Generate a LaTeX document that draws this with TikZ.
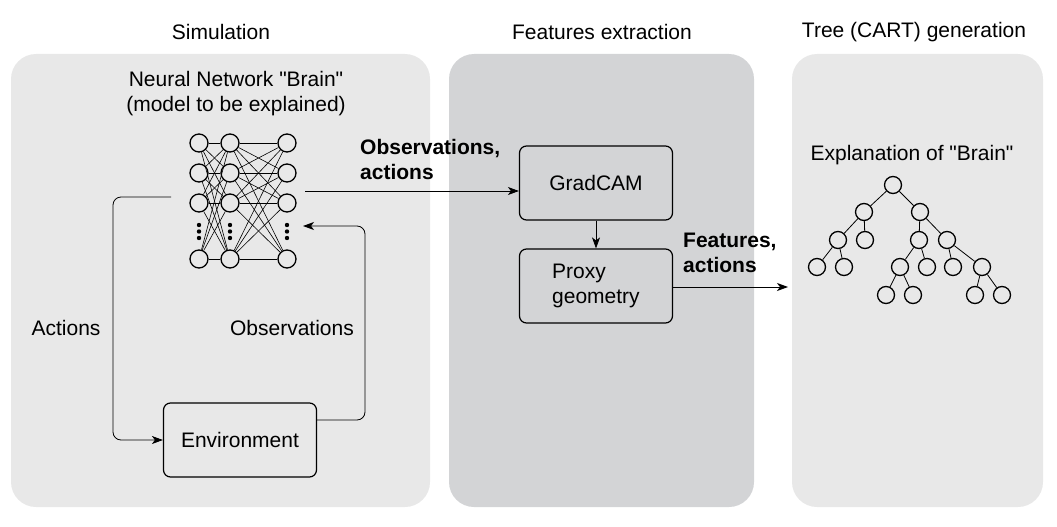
\documentclass[tikz,border=0pt]{standalone}
\usepackage{fontspec}
\setmainfont{Liberation Sans}
\usetikzlibrary{arrows.meta,positioning,calc}
\definecolor{panellight}{HTML}{E8E8E8}
\definecolor{paneldark}{HTML}{D3D4D6}

\begin{document}
\begin{tikzpicture}[x=1pt,y=-1pt,>={Stealth[length=11pt,width=8pt,inset=3pt]}]
\tikzstyle{panel}=[rounded corners=25pt,draw=none]
\tikzstyle{block}=[draw,rounded corners=7pt,line width=1.2pt,minimum width=153pt,minimum height=74pt,inner sep=0pt]
\tikzstyle{neuron}=[circle,draw,line width=1.3pt,minimum size=18pt,inner sep=0pt]
\tikzstyle{leaf}=[circle,draw,line width=1.3pt,minimum size=17pt,inner sep=0pt]
\tikzstyle{txt}=[font=\fontsize{21}{25}\selectfont,align=left,inner sep=0pt]
\tikzstyle{btxt}=[font=\fontsize{21}{25}\selectfont\bfseries,align=left,inner sep=0pt]
\tikzstyle{link}=[line width=0.8pt]

\useasboundingbox (0,0) rectangle (1057,527);

% panels
\fill[panellight,panel] (11,54) rectangle (430,507);
\fill[paneldark,panel] (449,54) rectangle (754,507);
\fill[panellight,panel] (792,54) rectangle (1043,507);

\node (simtitle) [txt] at (221,32) {Simulation};
\node (feattitle) [txt] at (602,32) {Features extraction};
\node (treetitle) [txt] at (914,32) {Tree (CART) generation};

% neural network
\node (nnlabel) [txt,align=center] at (236,94) {Neural Network \textquotedbl Brain\textquotedbl\\(model to be explained)};
\foreach \c/\x in {1/199,2/230,3/287}
  \foreach \r/\y in {1/143,2/173,3/203,5/259}
    \node (n\c\r) [neuron] at (\x,\y) {};
\foreach \a in {1,2,3,5}
  \foreach \b in {1,2,3,5} {
    \draw[line width=0.6pt] (n1\a) -- (n2\b);
    \draw[line width=0.6pt] (n2\a) -- (n3\b);
  }
\foreach \x in {199,230,287}
  \foreach \d in {225,231.5,238}
    \fill (\x,\d) circle (2.2pt);

% environment loop
\node (env) [block] at (240,440) {\fontsize{21}{25}\selectfont Environment};
\coordinate (actout) at (171,197);
\coordinate (obsin) at (303,226);
\draw[link,->,rounded corners=8pt] (actout) -- (113,197) |- (env.west);
\draw[link,->,rounded corners=8pt] ([yshift=20pt]env.east) -- (365,420) |- (obsin);
\node (actlbl) [txt] at (66,328) {Actions};
\node (obslbl) [txt] at (292,328) {Observations};

% features extraction
\node (gradcam) [block] at (596,183) {\fontsize{21}{25}\selectfont GradCAM};
\node (proxy) [block] at (596,286) {};
\node (proxytxt) [txt,anchor=west] at (552,286) {Proxy\\geometry};
\coordinate (nnout) at (305,191);
\draw[link,->] (nnout) -- (nnout -| gradcam.west);
\node (obsact) [btxt,anchor=north west] at (360,139) {Observations,\\actions};
\draw[link,->] (gradcam) -- (proxy);
\coordinate (treein) at (788,287);
\draw[link,->] (treein -| proxy.east) -- (treein);
\node (featact) [btxt,anchor=north west] at (683,233) {Features,\\actions};

% tree
\node (explbl) [txt] at (912,155) {Explanation of \textquotedbl Brain\textquotedbl};
\foreach \n/\x/\y in {t/893/185, l/864/212, r/920/212,
    ll/838/240, lr/865/240, rl/919/240, rr/947/240,
    lll/817/267, llr/844/267, rll/900/267, rlr/927/267, rrl/953/267, rrr/982/267,
    rlll/886/295, rllr/913/295, rrrl/975/295, rrrr/1002/295}
  \node (\n) [leaf] at (\x,\y) {};
\foreach \p/\q in {t/l, t/r, l/ll, l/lr, r/rl, r/rr, ll/lll, ll/llr, rl/rll, rl/rlr,
    rr/rrl, rr/rrr, rll/rlll, rll/rllr, rrr/rrrl, rrr/rrrr}
  \draw[line width=0.8pt] (\p) -- (\q);
\end{tikzpicture}
\end{document}
